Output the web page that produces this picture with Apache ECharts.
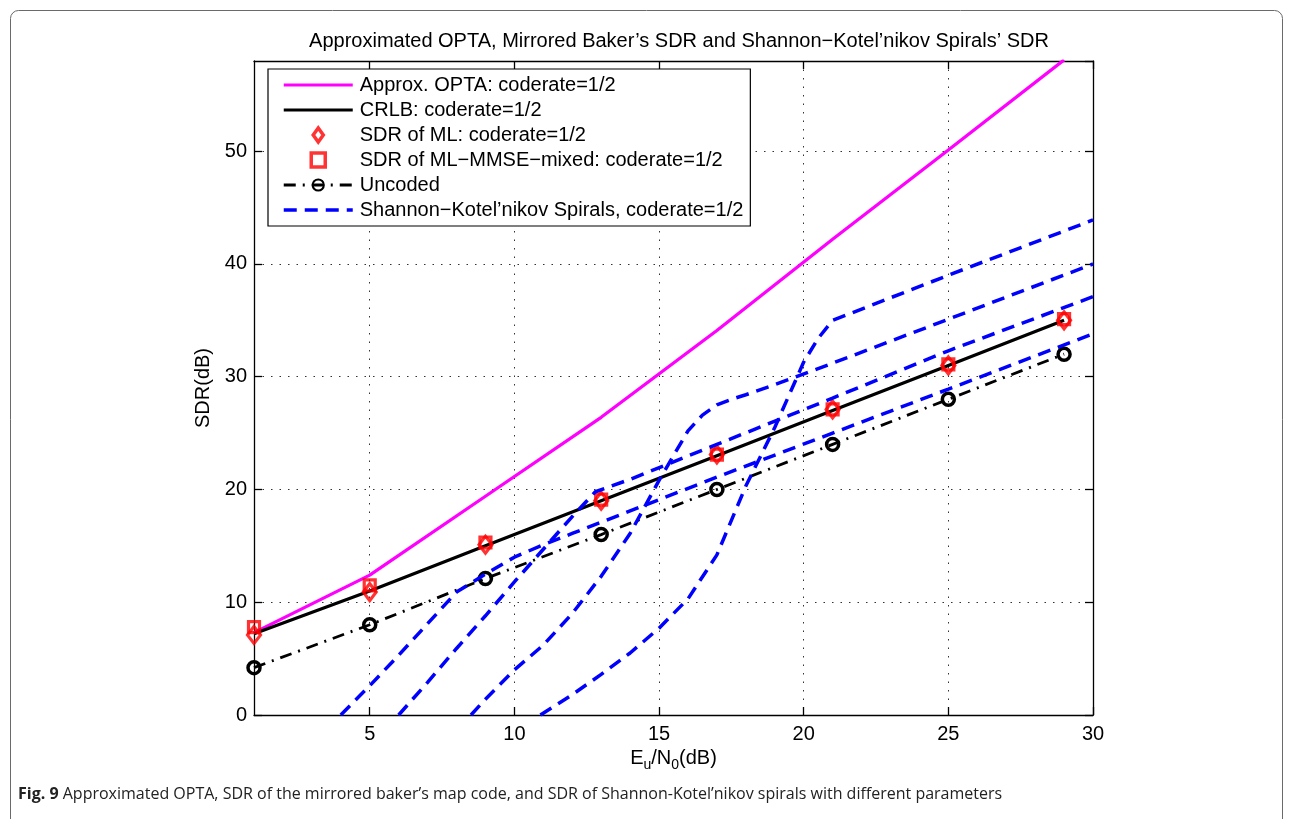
<!DOCTYPE html>
<html><head><meta charset="utf-8">
<script src="https://cdn.jsdelivr.net/npm/echarts@6/dist/echarts.min.js"></script>
<style>html,body{margin:0;padding:0;background:#fff}#c{width:1291px;height:819px}</style>
</head><body><div id="c"></div>
<script>
// ---- data ----
const snr = [1, 5, 9, 13, 17, 21, 25, 29];
const optaSDR = [7.3, 12.4, 19.4, 26.4, 34.1, 42.2, 50.1, 58.1];
const crlbSDR = [7.2, 11.0, 15.0, 19.0, 23.0, 27.0, 31.0, 35.0];
const mlSDR = [7.1, 10.9, 15.1, 19.0, 23.1, 27.1, 31.0, 35.0];
const mixedSDR = [7.8, 11.5, 15.3, 19.1, 23.1, 27.1, 31.1, 35.1];
const uncodedSDR = [4.2, 8.0, 12.1, 16.0, 20.0, 24.0, 28.0, 32.0];

const spiral1X = [4, 5, 6, 7, 8, 9, 10, 11, 12, 13, 17, 21, 25, 30];
const spiral1Y = [0, 2.6, 5.3, 8.1, 10.9, 12.5, 14.0, 15.1, 16.1, 17.1, 21.1, 25.0, 28.9, 33.8];
const spiral2X = [6, 7, 8, 9, 10, 11, 12, 12.8, 14, 17, 21, 25, 30];
const spiral2Y = [0, 2.9, 5.9, 8.8, 11.8, 14.7, 17.6, 19.8, 20.9, 24.0, 28.1, 32.3, 37.1];
const spiral3X = [8.5, 9, 10, 11, 12, 13, 14, 15, 16, 16.5, 17, 17.5, 18, 19, 21, 25, 30];
const spiral3Y = [0, 1.4, 4.0, 6.2, 9.0, 12.3, 16.1, 20.8, 25.2, 26.6, 27.5, 28.0, 28.4, 29.3, 31.2, 35.1, 40.0];
const spiral4X = [10.9, 12, 13, 14, 15, 16, 17, 18, 19, 20, 20.5, 21, 25, 30];
const spiral4Y = [0, 1.8, 3.6, 5.5, 7.7, 10.3, 14.2, 20.3, 25.5, 31.3, 33.4, 35.0, 39.0, 43.9];

const xTicks = [5, 10, 15, 20, 25, 30];

const titleText = 'Approximated OPTA, Mirrored Baker’s SDR and Shannon−Kotel’nikov Spirals’ SDR';
const nameOPTA = 'Approx. OPTA: coderate=1/2';
const nameCRLB = 'CRLB: coderate=1/2';
const nameML = 'SDR of ML: coderate=1/2';
const nameMix = 'SDR of ML−MMSE−mixed: coderate=1/2';
const nameUnc = 'Uncoded';
const nameSpiral = 'Shannon−Kotel’nikov Spirals, coderate=1/2';
const captionBold = 'Fig. 9';
const captionText = ' Approximated OPTA, SDR of the mirrored baker’s map code, and SDR of Shannon-Kotel’nikov spirals with different parameters';

function pairs(xs, ys) { return xs.map((x, i) => [x, ys[i]]); }

const FONT = '"Liberation Sans", Arial, Helvetica, sans-serif';
const tickStyle = { color: '#000', width: 1.3 };
const gridLine = { show: true, lineStyle: { type: [1.5, 7], color: '#333', width: 1 } };
const noSymbol = { color: 'rgba(0,0,0,0)', borderColor: 'rgba(0,0,0,0)', borderWidth: 0 };
const redOpen = { color: '#fff', borderColor: '#ff0000', borderWidth: 3.5 };

const spiralStyle = { color: '#0000ff', width: 3.5, type: [13, 8] };
function spiral(xs, ys) {
  return { name: nameSpiral, type: 'line', data: pairs(xs, ys), symbol: 'none',
    lineStyle: spiralStyle, itemStyle: { color: '#0000ff' }, z: 5 };
}

const chart = echarts.init(document.getElementById('c'), null, { renderer: 'canvas' });
chart.setOption({
  animation: false,
  backgroundColor: '#fff',
  title: {
    text: titleText, left: 674, top: 26, textAlign: 'center',
    textStyle: { fontFamily: FONT, fontSize: 20, fontWeight: 'normal', color: '#000' }
  },
  grid: { left: 254, top: 61, width: 839, height: 654, show: false },
  legend: {
    orient: 'vertical', left: 268, top: 69, padding: [6, 7, 6, 14],
    itemWidth: 69, itemHeight: 14, itemGap: 5,
    backgroundColor: '#fff', borderColor: '#000', borderWidth: 1.2,
    lineStyle: { width: 'inherit' },
    textStyle: { fontFamily: FONT, fontSize: 20, color: '#000', lineHeight: 20, padding: [0, 0, 0, 2] },
    data: [
      { name: nameOPTA, itemStyle: noSymbol },
      { name: nameCRLB, itemStyle: noSymbol },
      { name: nameML, icon: 'path://M0,-9L6.5,0L0,9L-6.5,0Z', itemStyle: redOpen },
      { name: nameMix, icon: 'path://M-5,-5H5V5H-5Z', itemStyle: redOpen },
      { name: nameUnc },
      { name: nameSpiral, itemStyle: noSymbol }
    ]
  },
  xAxis: [
    {
      type: 'value', min: 1, max: 30, position: 'bottom',
      axisLine: { show: true, onZero: false, lineStyle: tickStyle },
      axisTick: { show: true, inside: true, length: 8, customValues: xTicks, lineStyle: tickStyle },
      axisLabel: { customValues: xTicks, color: '#000', fontFamily: FONT, fontSize: 20, margin: 9 },
      splitLine: gridLine,
      name: '{n|E}{s|u}{n|/N}{s|0}{n|(dB)}', nameLocation: 'middle', nameGap: 24,
      nameTextStyle: {
        color: '#000', fontFamily: FONT, fontSize: 20,
        rich: {
          n: { fontFamily: FONT, fontSize: 20, color: '#000', verticalAlign: 'top', lineHeight: 22 },
          s: { fontFamily: FONT, fontSize: 14, color: '#000', verticalAlign: 'top', lineHeight: 22, padding: [9, 0, 0, 0] }
        }
      }
    },
    {
      type: 'value', min: 1, max: 30, position: 'top',
      axisLine: { show: true, onZero: false, lineStyle: tickStyle },
      axisTick: { show: true, inside: true, length: 8, customValues: xTicks, lineStyle: tickStyle },
      axisLabel: { show: false },
      splitLine: { show: false }
    }
  ],
  yAxis: [
    {
      type: 'value', min: 0, max: 58, interval: 10, position: 'left',
      axisLine: { show: true, onZero: false, lineStyle: tickStyle },
      axisTick: { show: true, inside: true, length: 8, lineStyle: tickStyle },
      axisLabel: { color: '#000', fontFamily: FONT, fontSize: 20, margin: 7, showMaxLabel: false },
      splitLine: gridLine,
      name: 'SDR(dB)', nameLocation: 'middle', nameGap: 37,
      nameTextStyle: { color: '#000', fontFamily: FONT, fontSize: 20 }
    },
    {
      type: 'value', min: 0, max: 58, interval: 10, position: 'right',
      axisLine: { show: true, onZero: false, lineStyle: tickStyle },
      axisTick: { show: true, inside: true, length: 8, lineStyle: tickStyle },
      axisLabel: { show: false },
      splitLine: { show: false }
    }
  ],
  graphic: [
    { type: 'rect', silent: true, z: -10,
      shape: { x: 10.5, y: 10.5, width: 1272, height: 900, r: 8 },
      style: { fill: 'none', stroke: '#6a6a6a', lineWidth: 1 } },
    { type: 'text', left: 18, top: 786, silent: true,
      style: {
        text: '{b|' + captionBold + '}' + captionText,
        fontFamily: '"Open Sans", "Noto Sans", sans-serif', fontSize: 16, fill: '#222',
        rich: { b: { fontFamily: '"Open Sans", "Noto Sans", sans-serif', fontSize: 16, fontWeight: 'bold', fill: '#222' } }
      } }
  ],
  series: [
    { name: nameOPTA, type: 'line', data: pairs(snr, optaSDR), symbol: 'none',
      lineStyle: { color: '#ff00ff', width: 3.2 }, itemStyle: { color: '#ff00ff' } },
    { name: nameCRLB, type: 'line', data: pairs(snr, crlbSDR), symbol: 'none',
      lineStyle: { color: '#000', width: 3.2 }, itemStyle: { color: '#000' } },
    { name: nameML, type: 'scatter', data: pairs(snr, mlSDR), symbol: 'diamond', symbolSize: [13, 17],
      itemStyle: { color: 'rgba(255,255,255,0)', borderColor: '#ff0000', borderWidth: 3.2 }, z: 3 },
    { name: nameMix, type: 'scatter', data: pairs(snr, mixedSDR), symbol: 'rect', symbolSize: 11,
      itemStyle: { color: 'rgba(255,255,255,0)', borderColor: '#ff0000', borderWidth: 3.2 }, z: 3 },
    { name: nameUnc, type: 'line', data: pairs(snr, uncodedSDR), symbol: 'circle', symbolSize: 12, showSymbol: true,
      lineStyle: { color: '#000', width: 2.8, type: [12, 7, 2, 7] },
      itemStyle: { color: 'rgba(255,255,255,0)', borderColor: '#000', borderWidth: 3.5 }, z: 4 },
    spiral(spiral1X, spiral1Y),
    spiral(spiral2X, spiral2Y),
    spiral(spiral3X, spiral3Y),
    spiral(spiral4X, spiral4Y)
  ]
});
</script>
</body></html>
